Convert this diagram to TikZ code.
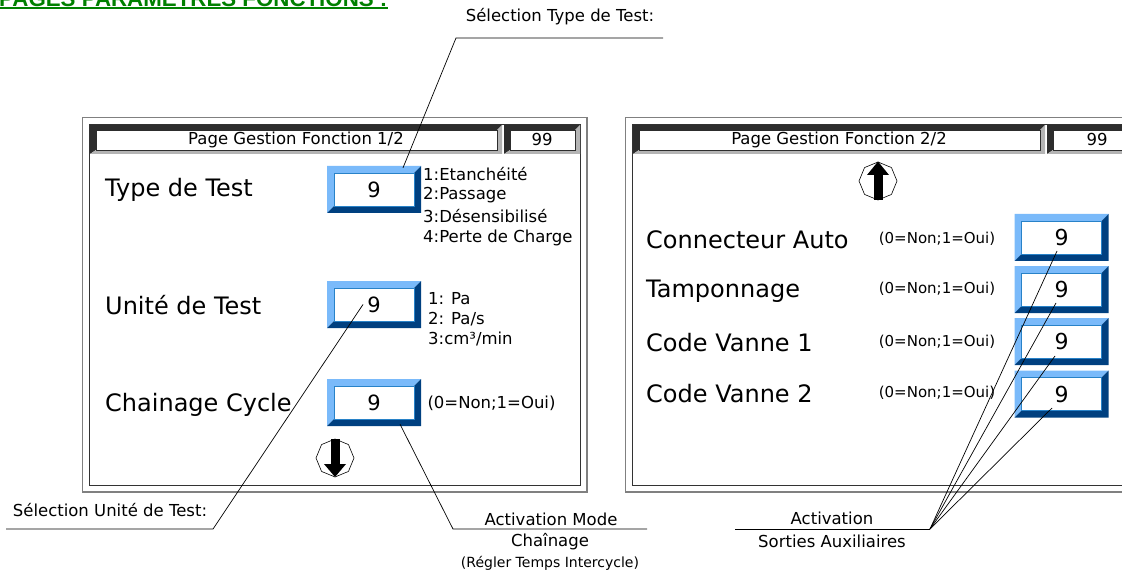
\documentclass[tikz,border=0pt]{standalone}
\usepackage{fontspec}
\setmainfont{DejaVu Sans}
\newfontfamily\titlefont{Liberation Sans}
\usetikzlibrary{shapes.geometric,calc}
\definecolor{lightb}{RGB}{122,186,250}
\definecolor{darkb}{RGB}{0,64,128}
\definecolor{midb}{RGB}{40,130,200}
\definecolor{hdark}{RGB}{45,45,45}
\definecolor{hlight}{RGB}{180,180,180}
\definecolor{framegray}{RGB}{128,128,128}
\definecolor{titlegreen}{RGB}{0,128,0}
\newcommand\fsz[1]{\fontsize{#1}{#1}\selectfont}
\begin{document}
\begin{tikzpicture}[x=1pt,y=-1pt,
 valbox/.style={minimum width=94pt,minimum height=47pt,inner sep=0pt,font=\fsz{21},
  path picture={
   \fill[lightb] (path picture bounding box.north west) -- (path picture bounding box.north east)
     -- ([xshift=-7pt,yshift=-7pt]path picture bounding box.north east)
     -- ([xshift=7pt,yshift=-7pt]path picture bounding box.north west)
     -- ([xshift=7pt,yshift=7pt]path picture bounding box.south west)
     -- (path picture bounding box.south west) -- cycle;
   \fill[darkb] (path picture bounding box.north east) -- (path picture bounding box.south east)
     -- (path picture bounding box.south west)
     -- ([xshift=7pt,yshift=7pt]path picture bounding box.south west)
     -- ([xshift=-7pt,yshift=7pt]path picture bounding box.south east)
     -- ([xshift=-7pt,yshift=-7pt]path picture bounding box.north east) -- cycle;
   \filldraw[fill=white,draw=midb,line width=0.8pt]
     ([xshift=7pt,yshift=-7pt]path picture bounding box.north west) rectangle
     ([xshift=-7pt,yshift=7pt]path picture bounding box.south east);
  }},
 hdrbox/.style={minimum height=29pt,inner sep=0pt,font=\fsz{16.5},
  path picture={
   \fill[hdark] (path picture bounding box.north west) -- (path picture bounding box.north east)
     -- ([xshift=-5pt,yshift=-5pt]path picture bounding box.north east)
     -- ([xshift=6pt,yshift=-5pt]path picture bounding box.north west)
     -- ([xshift=6pt,yshift=4pt]path picture bounding box.south west)
     -- (path picture bounding box.south west) -- cycle;
   \fill[hlight] (path picture bounding box.north east) -- (path picture bounding box.south east)
     -- (path picture bounding box.south west)
     -- ([xshift=6pt,yshift=4pt]path picture bounding box.south west)
     -- ([xshift=-5pt,yshift=4pt]path picture bounding box.south east)
     -- ([xshift=-5pt,yshift=-5pt]path picture bounding box.north east) -- cycle;
   \filldraw[fill=white,draw=hdark,line width=0.6pt]
     ([xshift=6pt,yshift=-5pt]path picture bounding box.north west) rectangle
     ([xshift=-5pt,yshift=4pt]path picture bounding box.south east);
  }},
 octo/.style={regular polygon,regular polygon sides=8,shape border rotate=22.5,
  minimum size=38pt,draw,line width=0.6pt,inner sep=0pt},
 big/.style={font=\fsz{24},inner sep=0pt,anchor=base west},
 opt/.style={font=\fsz{16.5},inner sep=0pt,anchor=base west},
 yn/.style={inner sep=0pt},
 lab/.style={font=\fsz{16.5},inner sep=0pt},
 lead/.style={draw=black,line width=0.7pt},
 outerframe/.style={draw=framegray,line width=1.6pt},
 innerframe/.style={draw=black!80,line width=0.9pt}
]
\useasboundingbox (0,0) rectangle (1122,572);
\clip (0,0) rectangle (1122,572);

% title
\node[anchor=base west,font=\titlefont\bfseries\fsz{22.3},text=titlegreen,inner sep=0pt] (title) at (-1,6.3) {PAGES PARAMETRES FONCTIONS :};
\draw[titlegreen,line width=2pt] ([yshift=-2.2pt]title.base west) -- ([yshift=-2.2pt]title.base east);

% frames
\draw[outerframe] (82.5,117.5) rectangle (587,492);
\draw[innerframe] (89.5,124.5) rectangle (580,485);
\draw[outerframe] (625.5,117.5) rectangle (1130,492);
\draw[innerframe] (632.5,124.5) rectangle (1123,485);

% headers
\node[hdrbox,minimum width=412pt] (h1) at (296,139.5) {Page Gestion Fonction 1/2};
\node[hdrbox,minimum width=76pt] (n1) at (542,139.5) {99};
\node[hdrbox,minimum width=412pt] (h2) at (839,139.5) {Page Gestion Fonction 2/2};
\node[hdrbox,minimum width=100pt] (n2) at (1097,139.5) {99};

% left panel
\node[big] (tType) at (105,197) {Type de Test};
\node[big] (tUnit) at (105,314) {Unité de Test};
\node[big] (tChain) at (105,411) {Chainage Cycle};
\node[valbox] (v1) at (374,189.5) {9};
\node[valbox] (v2) at (374,304.5) {9};
\node[valbox] (v3) at (374,402.5) {9};
\node[opt] (o1) at (423,181) {1:Etanchéité};
\node[opt] (o2) at (423,200) {2:Passage};
\node[opt] (o3) at (423,223) {3:Désensibilisé};
\node[opt] (o4) at (423,243) {4:Perte de Charge};
\node[opt] (u1) at (428,304) {1: Pa};
\node[opt] (u2) at (428,324) {2: Pa/s};
\node[opt] (u3) at (428,344) {3:cm³/min};
\node[yn,font=\fsz{16.5}] (ych) at (491.5,403) {(0=Non;1=Oui)};
\node[octo] (down) at (335,458) {};
\fill let \p1=(down.center) in (\x1-4.5pt,\y1+19pt) rectangle (\x1+4.5pt,\y1-7pt);
\fill let \p1=(down.center) in (\x1-11pt,\y1-6pt) -- (\x1+11pt,\y1-6pt) -- (\x1,\y1-19pt) -- cycle;

% right panel
\node[octo] (up) at (878,181) {};
\fill let \p1=(up.center) in (\x1-4.5pt,\y1-19pt) rectangle (\x1+4.5pt,\y1+7pt);
\fill let \p1=(up.center) in (\x1-11pt,\y1+6pt) -- (\x1+11pt,\y1+6pt) -- (\x1,\y1+19.5pt) -- cycle;
\node[big] (tConn) at (646,248) {Connecteur Auto};
\node[big] (tTamp) at (646,297) {Tamponnage};
\node[big] (tCV1) at (646,351) {Code Vanne 1};
\node[big] (tCV2) at (646,402) {Code Vanne 2};
\node[yn,font=\fsz{15}] (y1) at (937,239) {(0=Non;1=Oui)};
\node[yn,font=\fsz{15}] (y2) at (937,289) {(0=Non;1=Oui)};
\node[yn,font=\fsz{15}] (y3) at (937,342) {(0=Non;1=Oui)};
\node[yn,font=\fsz{15}] (y4) at (937,393) {(0=Non;1=Oui)};
\node[valbox,font=\fsz{22}] (r1) at (1061.5,237.5) {9};
\node[valbox,font=\fsz{22}] (r2) at (1061.5,289.5) {9};
\node[valbox,font=\fsz{22}] (r3) at (1061.5,341.5) {9};
\node[valbox,font=\fsz{22}] (r4) at (1061.5,394) {9};

% labels
\node[lab] (lType) at (560,17) {Sélection Type de Test:};
\coordinate (tA) at (456,38);
\coordinate (tB) at (663,38);
\draw[lead] (tB) -- (tA) -- ([xshift=29pt,yshift=-2pt]v1.north);

\node[lab] (lUnit) at (110,510) {Sélection Unité de Test:};
\coordinate (uA) at (6,529);
\coordinate (uB) at (213,529);
\draw[lead] (uA) -- (uB) -- ([xshift=-11pt]v2.center);

\node[lab] (lAct1) at (551,519) {Activation Mode};
\node[lab] (lAct2) at (550,542) {Chaînage};
\node[lab,font=\fsz{14}] (lAct3) at (550,563) {(Régler Temps Intercycle)};
\coordinate (aA) at (453,529);
\coordinate (aB) at (647,529);
\draw[lead] (aB) -- (aA) -- ([xshift=26pt,yshift=2pt]v3.south);

\node[lab] (lAux1) at (832,518) {Activation};
\node[lab] (lAux2) at (832,541) {Sorties Auxiliaires};
\coordinate (xA) at (735,529);
\coordinate (xB) at (930,529);
\draw[lead] (xA) -- (xB);
\draw[lead] (xB) -- ([xshift=-4.5pt,yshift=-13.5pt]r1.center);
\draw[lead] (xB) -- ([xshift=-5.5pt,yshift=-13.5pt]r2.center);
\draw[lead] (xB) -- ([xshift=-6.5pt,yshift=-14.5pt]r3.center);
\draw[lead] (xB) -- ([xshift=-9.5pt,yshift=-14pt]r4.center);
\end{tikzpicture}
\end{document}
